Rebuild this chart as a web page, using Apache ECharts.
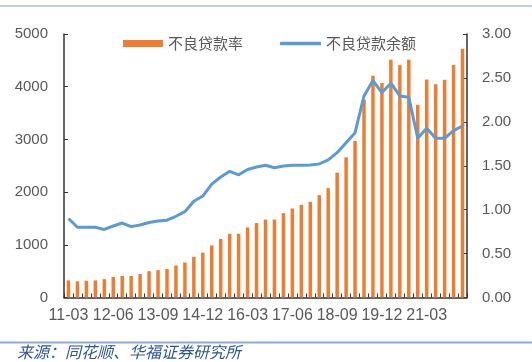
<!DOCTYPE html>
<html>
<head>
<meta charset="utf-8">
<script src="https://cdn.jsdelivr.net/npm/echarts@6/dist/echarts.min.js"></script>
<style>html,body{margin:0;padding:0;background:#fff;}#c{width:532px;height:362px;}</style>
</head>
<body>
<div id="c"></div>
<script>
var categories = ["11-03","11-06","11-09","11-12","12-03","12-06","12-09","12-12","13-03","13-06","13-09","13-12",
"14-03","14-06","14-09","14-12","15-03","15-06","15-09","15-12","16-03","16-06","16-09","16-12",
"17-03","17-06","17-09","17-12","18-03","18-06","18-09","18-12","19-03","19-06","19-09","19-12",
"20-03","20-06","20-09","20-12","21-03","21-06","21-09","21-12","22-03"];
var barValues = [325,308,318,325,348,390,410,408,446,500,520,540,607,664,770,852,988,1112,1210,1210,
1330,1413,1479,1479,1600,1688,1758,1815,1942,2075,2370,2660,2970,3752,4210,4070,4513,4410,4513,3657,
4135,4045,4133,4410,4722];
var lineValues = [0.90,0.80,0.80,0.80,0.775,0.814,0.848,0.807,0.826,0.854,0.871,0.88,0.925,0.977,1.095,1.155,
1.29,1.372,1.437,1.397,1.458,1.485,1.506,1.478,1.498,1.506,1.506,1.509,1.52,1.566,1.649,1.763,1.877,
2.295,2.47,2.333,2.44,2.295,2.28,1.813,1.927,1.813,1.813,1.90,1.953];
var leftTicks = {min:0, max:5000, interval:1000};
var rightTicks = {min:0, max:3, interval:0.5};

var chart = echarts.init(document.getElementById('c'), null, {renderer:'canvas'});
var labelColor = '#595959';
var axisColor = '#333333';
chart.setOption({
  animation: false,
  grid: {left: 64, right: 65, top: 34, bottom: 64.5},
  legend: [
    {left: 118, top: 31, itemWidth: 40, itemHeight: 7, itemGap: 8,
     data: [{name:'不良贷款率', icon:'rect'}],
     textStyle: {color: labelColor, fontSize: 15, fontFamily: 'Noto Sans CJK SC'}},
    {left: 275, top: 31, itemWidth: 41, itemHeight: 3.5, itemGap: 8,
     data: [{name:'不良贷款余额', icon:'roundRect'}],
     textStyle: {color: labelColor, fontSize: 15, fontFamily: 'Noto Sans CJK SC'}}
  ],
  xAxis: {
    type: 'category', data: categories, boundaryGap: true,
    axisLine: {lineStyle: {color: axisColor, width: 1.5}},
    axisTick: {show: true, inside: true, length: 4, interval: 0, lineStyle: {color: axisColor}},
    axisLabel: {interval: 4, color: labelColor, fontSize: 16, margin: 10, fontFamily: 'Liberation Sans'},
    splitLine: {show: false}
  },
  yAxis: [
    {type: 'value', min: leftTicks.min, max: leftTicks.max, interval: leftTicks.interval,
     axisLine: {show: true, lineStyle: {color: axisColor, width: 1.5}},
     axisTick: {show: true, inside: true, length: 4, lineStyle: {color: axisColor}},
     axisLabel: {color: labelColor, fontSize: 15, margin: 16, fontFamily: 'Liberation Sans',
       formatter: function(v){ return String(v); }},
     splitLine: {show: false}},
    {type: 'value', min: rightTicks.min, max: rightTicks.max, interval: rightTicks.interval, position: 'right',
     axisLine: {show: true, lineStyle: {color: axisColor, width: 1.5}},
     axisTick: {show: true, inside: true, length: 4, lineStyle: {color: axisColor}},
     axisLabel: {color: labelColor, fontSize: 15, margin: 15, fontFamily: 'Liberation Sans',
       formatter: function(v){ return v.toFixed(2); }},
     splitLine: {show: false}}
  ],
  series: [
    {name: '不良贷款率', type: 'bar', yAxisIndex: 0, data: barValues, barWidth: 3.5,
     itemStyle: {color: '#ED7D31'}},
    {name: '不良贷款余额', type: 'line', yAxisIndex: 1, data: lineValues, symbol: 'none',
     lineStyle: {color: '#5B9BD5', width: 3}, itemStyle: {color: '#5B9BD5'}, z: 5}
  ],
  graphic: [
    {type: 'line', shape: {x1: 0, y1: 6, x2: 532, y2: 6}, style: {stroke: '#A9BDE3', lineWidth: 1.5}},
    {type: 'line', shape: {x1: 0, y1: 342.5, x2: 532, y2: 342.5}, style: {stroke: '#8EA9DB', lineWidth: 2}},
    {type: 'text', left: 17, top: 344, style: {text: '来源：同花顺、华福证券研究所', fill: '#2F5597',
      font: 'italic 16px "Noto Sans CJK SC"'}}
  ]
});
</script>
</body>
</html>
